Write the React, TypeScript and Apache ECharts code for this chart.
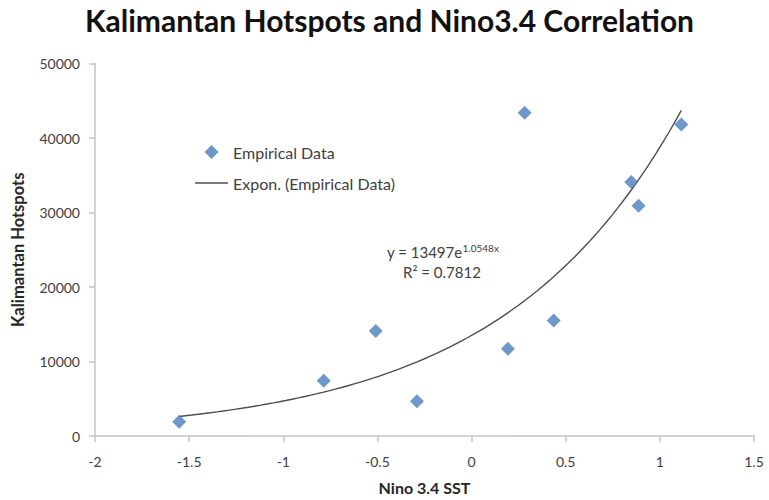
import React, { useEffect, useRef } from "react";
import * as echarts from "echarts";

const NINO_SST = [-1.553, -0.785, -0.509, -0.29, 0.193, 0.282, 0.436, 0.848, 0.887, 1.114];
const HOTSPOTS = [1900, 7400, 14100, 4650, 11700, 43400, 15500, 34100, 30900, 41800];
const TREND_A = 13497;
const TREND_B = 1.0548;
const R2 = 0.7812;
const X_TICKS = { min: -2, max: 1.5, interval: 0.5 };
const Y_TICKS = { min: 0, max: 50000, interval: 10000 };

const FONT = "Lato, 'Open Sans', sans-serif";
const AXIS_GRAY = "#c4c4c4";
const TEXT_GRAY = "#404040";

export default function App() {
  const ref = useRef<HTMLDivElement>(null);
  useEffect(() => {
    if (!ref.current) return;
    const chart = echarts.init(ref.current, undefined, { renderer: "svg" });
    const scatterData = NINO_SST.map((x, i) => [x, HOTSPOTS[i]]);
    const xMin = Math.min(...NINO_SST);
    const xMax = Math.max(...NINO_SST);
    const trend: number[][] = [];
    const steps = 80;
    for (let i = 0; i <= steps; i++) {
      const x = xMin + ((xMax - xMin) * i) / steps;
      trend.push([x, TREND_A * Math.exp(TREND_B * x)]);
    }
    const axisLine = { show: true, onZero: false, lineStyle: { color: AXIS_GRAY, width: 1.5 } };
    const axisTick = { show: true, length: 6, lineStyle: { color: AXIS_GRAY, width: 1.5 } };
    chart.setOption({
      animation: false,
      backgroundColor: "#ffffff",
      textStyle: { fontFamily: FONT },
      title: {
        text: "Kalimantan Hotspots and Nino3.4 Correlation",
        left: 80,
        top: 0,
        textStyle: { fontFamily: FONT, fontWeight: "bold", fontSize: 30, color: "#111111" },
      },
      legend: {
        orient: "vertical",
        left: 190,
        top: 139,
        itemWidth: 33,
        itemHeight: 14,
        itemGap: 15,
        textStyle: { fontFamily: FONT, fontSize: 16, color: TEXT_GRAY },
        data: [
          { name: "Empirical Data", icon: "path://M7,0L14,7L7,14L0,7Z" },
          { name: "Expon. (Empirical Data)", icon: "path://M0,0h33v1.4h-33z" },
        ],
      },
      grid: { left: 95, right: 15, top: 63.5, bottom: 61.5, containLabel: false },
      xAxis: {
        type: "value",
        min: X_TICKS.min,
        max: X_TICKS.max,
        interval: X_TICKS.interval,
        name: "Nino 3.4 SST",
        nameLocation: "middle",
        nameGap: 43,
        nameTextStyle: { fontFamily: FONT, fontWeight: "bold", fontSize: 16, color: "#262626" },
        axisLine,
        axisTick,
        axisLabel: { fontFamily: FONT, fontSize: 14, color: TEXT_GRAY, margin: 18 },
        splitLine: { show: false },
      },
      yAxis: {
        type: "value",
        min: Y_TICKS.min,
        max: Y_TICKS.max,
        interval: Y_TICKS.interval,
        name: "Kalimantan Hotspots",
        nameLocation: "middle",
        nameGap: 69,
        nameTextStyle: { fontFamily: FONT, fontWeight: "bold", fontSize: 16.5, color: "#262626" },
        axisLine,
        axisTick,
        axisLabel: {
          fontFamily: FONT,
          fontSize: 14,
          color: TEXT_GRAY,
          margin: 15,
          formatter: (v: number) => String(v),
        },
        splitLine: { show: false },
      },
      series: [
        {
          name: "Empirical Data",
          type: "scatter",
          symbol: "diamond",
          symbolSize: 14,
          itemStyle: { color: "#4a7ebb" },
          data: scatterData,
          z: 3,
        },
        {
          name: "Expon. (Empirical Data)",
          type: "line",
          showSymbol: false,
          symbol: "none",
          lineStyle: { color: "#4d4d4d", width: 1.4 },
          itemStyle: { color: "#4d4d4d" },
          data: trend,
          z: 2,
        },
      ],
      graphic: [
        {
          type: "text",
          left: 387,
          top: 243,
          style: {
            text: "{a|y = " + TREND_A + "e}{s|" + TREND_B + "x}",
            fontFamily: FONT,
            fontSize: 15,
            fontWeight: "normal",
            fill: TEXT_GRAY,
            rich: {
              a: { fontFamily: FONT, fontSize: 15, fontWeight: "normal", color: TEXT_GRAY },
              s: {
                fontFamily: FONT,
                fontSize: 10,
                fontWeight: "normal",
                color: TEXT_GRAY,
                verticalAlign: "bottom",
                padding: [0, 0, 7, 0],
              },
            },
          },
        },
        {
          type: "text",
          left: 403,
          top: 264,
          style: {
            text: "R² = " + R2,
            fontFamily: FONT,
            fontSize: 15,
            fontWeight: "normal",
            fill: TEXT_GRAY,
          },
        },
      ],
    });
    return () => chart.dispose();
  }, []);
  return (
    <div
      ref={ref}
      style={{ position: "fixed", left: 0, top: 0, width: 769, height: 500 }}
    />
  );
}
